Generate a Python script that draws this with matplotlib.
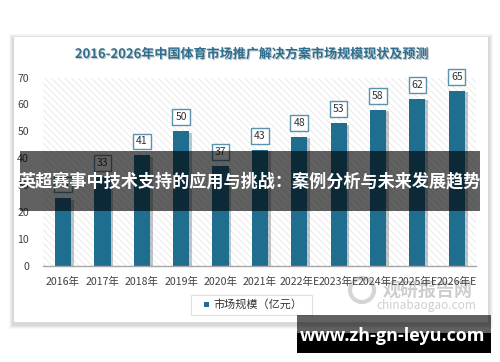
import numpy as np
import matplotlib
matplotlib.use('Agg')
from matplotlib import pyplot as plt
from matplotlib.patches import Rectangle
import matplotlib.patheffects as pe

plt.rcParams['font.family'] = ['Noto Sans CJK SC', 'DejaVu Sans']
plt.rcParams['hatch.linewidth'] = 0.5

years = ['2016年', '2017年', '2018年', '2019年', '2020年', '2021年',
         '2022年E', '2023年E', '2024年E', '2025年E', '2026年E']
market = [25, 33, 41, 50, 37, 43, 48, 53, 58, 62, 65]
y_ticks = [0, 10, 20, 30, 40, 50, 60, 70]

title = '2016-2026年中国体育市场推广解决方案市场规模现状及预测'
legend_lbl = '市场规模（亿元）'
banner = '英超赛事中技术支持的应用与挑战：案例分析与未来发展趋势'
site = 'www.zh-gn-leyu.com'

bar_col = '#1f6d8f'
W, H = 500, 362

fig = plt.figure(figsize=(W/100, H/100), dpi=100)
fig.patch.set_facecolor('white')

# background layer in pixel coords
bg = fig.add_axes([0, 0, 1, 1], zorder=0)
bg.set_xlim(0, W)
bg.set_ylim(H, 0)
bg.axis('off')
for k, a in enumerate([0.03, 0.03, 0.04, 0.05]):
    d = 5 - k
    bg.add_patch(Rectangle((14-d, 37-d+2), 474+2*d, 285+2*d, fc='black', alpha=a, lw=0))
bg.add_patch(Rectangle((14, 37), 474, 285, fc='white', lw=0))
bg.text(251, 54, title, ha='center', va='center', fontsize=9.4, fontweight='bold',
        color='#2d6e8e',
        path_effects=[pe.withSimplePatchShadow(offset=(0.8, -0.8), alpha=0.25)])

# watermark
bg.text(473, 290, '观研报告网', ha='right', va='center', fontsize=13, fontweight='bold',
        color='#c9c9c9', alpha=0.9)
bg.text(476, 306, 'chinabaogao.com', ha='right', va='center', fontsize=8.5,
        color='#c9c9c9', alpha=0.9)
bg.add_patch(plt.Circle((362, 290), 12, fc='none', ec='#d5d5d5', lw=3))

# main chart
ax = fig.add_axes([43/W, 1-265.5/H, (476-43)/W, (265.5-77.5)/H], zorder=1)
ax.set_facecolor('none')
ax.add_patch(Rectangle((0, 0), 1, 1, transform=ax.transAxes, fc='white',
                       ec='#e3e3e3', hatch='\\\\\\\\\\', lw=0, zorder=0))
x = np.arange(len(years))
bars = ax.bar(x, market, width=0.41, color=bar_col, zorder=2)
for b in bars:
    b.set_path_effects([pe.SimplePatchShadow(offset=(2, -1), alpha=0.25), pe.Normal()])
for i, v in enumerate(market):
    ax.annotate(str(v), xy=(i, v), xytext=(0, 10), textcoords='offset points',
                ha='center', va='center', fontsize=7.5, color='#333333', zorder=3,
                bbox=dict(boxstyle='square,pad=0.28', fc='white', ec='#5a93ae', lw=1))
ax.set_xlim(-0.51, 10.49)
ax.set_ylim(0, 70)
ax.set_yticks(y_ticks)
ax.set_xticks(x)
ax.set_xticklabels(years)
ax.tick_params(axis='both', length=0, labelsize=7.6, colors='#404040')
ax.tick_params(axis='x', pad=8)
ax.tick_params(axis='y', pad=10)
for s in ['top', 'right', 'left']:
    ax.spines[s].set_visible(False)
ax.spines['bottom'].set_color('#a6a6a6')
ax.spines['bottom'].set_linewidth(1)

# legend
ov = fig.add_axes([0, 0, 1, 1], zorder=5)
ov.set_xlim(0, W)
ov.set_ylim(H, 0)
ov.axis('off')
ov.add_patch(Rectangle((191, 295), 121, 20, fc='white', ec='#e0e0e0', lw=0.8))
ov.add_patch(Rectangle((204, 301.5), 5, 5, fc=bar_col, lw=0))
ov.text(213, 304.5, legend_lbl, ha='left', va='center', fontsize=8, color='#333333')

# overlay banners
ov.add_patch(Rectangle((20, 151), 460, 60, fc='black', alpha=0.62, lw=0))
ov.text(250, 181, banner, ha='center', va='center', fontsize=12.3, fontweight='bold',
        color='white')
ov.add_patch(Rectangle((297, 315), 194, 18, fc='black', alpha=0.62, lw=0))
ov.add_patch(Rectangle((297, 333), 194, 20, fc='black', lw=0))
ov.text(393, 336, site, ha='center', va='center', fontsize=13, fontweight='bold',
        color='white', family=['Open Sans', 'DejaVu Sans'])

fig.savefig('out.png', dpi=100)
